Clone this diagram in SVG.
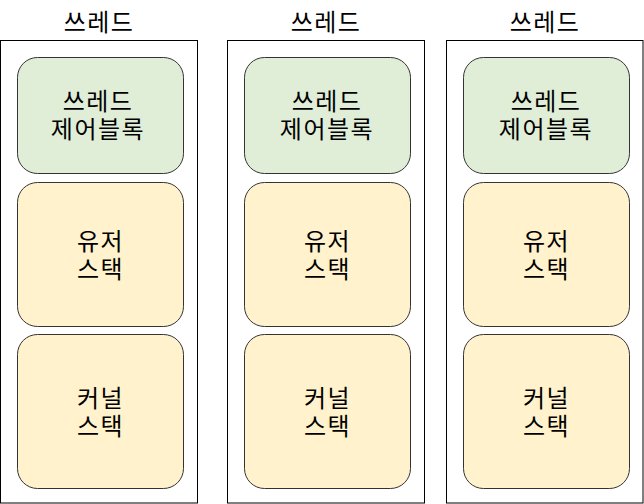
<svg xmlns="http://www.w3.org/2000/svg" width="644" height="504" viewBox="0 0 644 504">
<style>
.outer{fill:#ffffff;stroke:#000000;stroke-width:1}
.tcb{fill:#e0eed8;stroke:#333333;stroke-width:1}
.stk{fill:#fff2cc;stroke:#333333;stroke-width:1}
text{font-family:"Noto Sans CJK KR","Noto Sans",sans-serif;font-size:24px;letter-spacing:1.5px;fill:#000000;text-anchor:middle}
</style>
<rect width="644" height="504" fill="#ffffff"/>
<g id="thread1">
<text x="99" y="31">쓰레드</text>
<rect class="outer" x="0.5" y="40.5" width="197" height="462.5"/>
<g id="tcb1"><rect class="tcb" x="17.5" y="57.5" width="166" height="116" rx="20"/><text x="98" y="110">쓰레드</text><text x="98" y="138">제어블록</text></g>
<g id="user1"><rect class="stk" x="17.5" y="182.5" width="166" height="144" rx="20"/><text x="100.5" y="250">유저</text><text x="100.5" y="278">스택</text></g>
<g id="kernel1"><rect class="stk" x="17.5" y="334.5" width="166" height="154" rx="20"/><text x="100.5" y="407">커널</text><text x="100.5" y="435">스택</text></g>
</g>
<g id="thread2">
<text x="326" y="31">쓰레드</text>
<rect class="outer" x="227.5" y="40.5" width="197" height="462.5"/>
<g id="tcb2"><rect class="tcb" x="244.5" y="57.5" width="166" height="116" rx="20"/><text x="327" y="110">쓰레드</text><text x="327" y="138">제어블록</text></g>
<g id="user2"><rect class="stk" x="244.5" y="182.5" width="166" height="144" rx="20"/><text x="327.5" y="250">유저</text><text x="327.5" y="278">스택</text></g>
<g id="kernel2"><rect class="stk" x="244.5" y="334.5" width="166" height="154" rx="20"/><text x="327.5" y="407">커널</text><text x="327.5" y="435">스택</text></g>
</g>
<g id="thread3">
<text x="545" y="31">쓰레드</text>
<rect class="outer" x="446.5" y="40.5" width="196.5" height="462.5"/>
<g id="tcb3"><rect class="tcb" x="463.5" y="57.5" width="166" height="116" rx="20"/><text x="546" y="110">쓰레드</text><text x="546" y="138">제어블록</text></g>
<g id="user3"><rect class="stk" x="463.5" y="182.5" width="166" height="144" rx="20"/><text x="546.5" y="250">유저</text><text x="546.5" y="278">스택</text></g>
<g id="kernel3"><rect class="stk" x="463.5" y="334.5" width="166" height="154" rx="20"/><text x="546.5" y="407">커널</text><text x="546.5" y="435">스택</text></g>
</g>
<g id="connectors"></g>
</svg>
